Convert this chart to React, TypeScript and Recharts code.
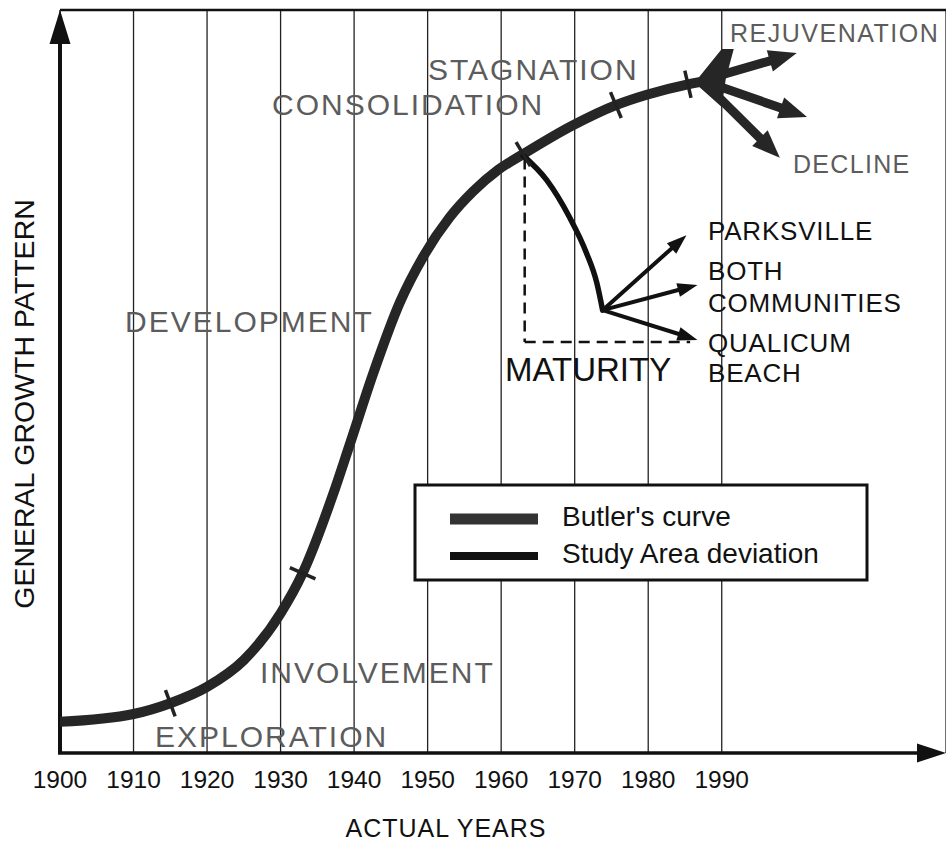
import React from 'react'
import {
  ComposedChart,
  Line,
  XAxis,
  YAxis,
  CartesianGrid,
  ReferenceLine,
} from 'recharts'

// Butler's curve (years, growth index 0..100)
const butlerYears = [1900, 1910, 1915, 1920, 1925, 1930, 1933, 1937.1, 1939.3, 1942.6, 1946.2, 1949.4, 1953, 1956.2, 1959.6, 1963, 1969.6, 1975.6, 1979.8, 1985.4, 1988.7]
const butlerValues = [4.2, 5.25, 6.7, 8.9, 12.5, 18.8, 24.2, 34.7, 41.2, 51.1, 60.6, 66.8, 72.1, 75.6, 78.5, 80.6, 84.4, 87.2, 88.6, 90.0, 90.6]
// stage boundaries marked with a little cross tick on the curve
const stageYears = [1915, 1933, 1963, 1975.6, 1985.4]

// study area deviation
const studyYears = [1963, 1966.2, 1969.3, 1971.6, 1973, 1973.8]
const studyValues = [80.4, 77.1, 72.1, 67.3, 63.3, 59.6]

const yearTicks = [1900, 1910, 1920, 1930, 1940, 1950, 1960, 1970, 1980, 1990]

// arrows: [fromYear, fromValue, toYear, toValue]
const fanArrows = [
  [1987.6, 90.6, 2000.2, 94.2],
  [1987.6, 90.4, 2001.6, 85.6],
  [1987.6, 90.2, 1997.9, 80.1],
]
const fanBase = [1986.3, 90.2, 1990, 90.7]
const studyArrows = [
  [1973.8, 59.6, 1985.2, 69.7],
  [1973.8, 59.6, 1986.7, 63.0],
  [1973.8, 59.6, 1986.7, 55.6],
]
const maturityDash = [
  [1963.2, 80.0, 1963.2, 55.3],
  [1963.2, 55.3, 1985.7, 55.3],
]

const phaseLabels = [
  { text: 'EXPLORATION', x: 155, y: 747 },
  { text: 'INVOLVEMENT', x: 260, y: 683 },
  { text: 'DEVELOPMENT', x: 125, y: 332 },
  { text: 'CONSOLIDATION', x: 272, y: 115 },
  { text: 'STAGNATION', x: 428, y: 80 },
]

const FONT = '"Liberation Sans", Arial, Helvetica, sans-serif'

const butlerData = butlerYears.map((year, i) => ({ year, value: butlerValues[i] }))
const studyData = studyYears.map((year, i) => ({ year, value: studyValues[i] }))

function arrowShape(width: number, headLen: number, headHalf: number, color: string) {
  return (p: any) => {
    const { x1, y1, x2, y2 } = p
    const dx = x2 - x1
    const dy = y2 - y1
    const len = Math.hypot(dx, dy) || 1
    const ux = dx / len
    const uy = dy / len
    const bx = x2 - ux * headLen
    const by = y2 - uy * headLen
    const nx = -uy
    const ny = ux
    return (
      <g>
        <line x1={x1} y1={y1} x2={bx + ux * 2} y2={by + uy * 2} stroke={color} strokeWidth={width} strokeLinecap="round" />
        <polygon
          points={`${x2},${y2} ${bx + nx * headHalf},${by + ny * headHalf} ${bx - nx * headHalf},${by - ny * headHalf}`}
          fill={color}
        />
      </g>
    )
  }
}

function wedgeShape(p: any) {
  const { x1, y1, x2, y2 } = p
  return <polygon points={`${x1},${y1} ${x2},${y2 - 30} ${x2 + 12},${y2 - 30} ${x2 + 4},${y2} ${x2},${y2 + 28}`} fill="#262626" />
}

function yAxisArrow(p: any) {
  const top = Math.min(p.y1, p.y2)
  const bottom = Math.max(p.y1, p.y2)
  const x = p.x1
  return (
    <g>
      <line x1={x} y1={bottom} x2={x} y2={top + 30} stroke="#111" strokeWidth={4} />
      <polygon points={`${x},${top} ${x - 10.5},${top + 34} ${x + 10.5},${top + 34}`} fill="#111" />
    </g>
  )
}

function xAxisArrow(p: any) {
  const left = Math.min(p.x1, p.x2)
  const right = Math.max(p.x1, p.x2)
  const y = p.y1
  return (
    <g>
      <line x1={left - 2} y1={y} x2={right - 25} y2={y} stroke="#111" strokeWidth={3.5} />
      <polygon points={`${right},${y} ${right - 29},${y - 9.5} ${right - 29},${y + 9.5}`} fill="#111" />
    </g>
  )
}

function StageTick(props: any) {
  const { cx, cy, payload, points, index } = props
  if (!stageYears.includes(payload?.year)) return <g key={`d${index}`} />
  let nx = -0.6
  let ny = -0.8
  if (points && points.length) {
    const a = points[Math.max(0, index - 1)]
    const b = points[Math.min(points.length - 1, index + 1)]
    const dx = b.x - a.x
    const dy = b.y - a.y
    const l = Math.hypot(dx, dy) || 1
    nx = -dy / l
    ny = dx / l
  }
  return (
    <line
      key={`d${index}`}
      x1={cx - nx * 14}
      y1={cy - ny * 14}
      x2={cx + nx * 14}
      y2={cy + ny * 14}
      stroke="#222"
      strokeWidth={3.5}
    />
  )
}

function YearTick({ x, y, payload }: any) {
  return (
    <text x={x} y={y + 35} textAnchor="middle" fontSize={24.5} fontFamily={FONT} fill="#111">
      {payload.value}
    </text>
  )
}

export default function App() {
  return (
    <div style={{ position: 'absolute', left: 0, top: 0, width: 946, height: 843, background: '#fff' }}>
      <ComposedChart width={946} height={843} margin={{ top: 10, right: 0, bottom: 0, left: 60 }}>
        <CartesianGrid horizontal={false} stroke="#222" strokeWidth={1.3} />
        <XAxis
          type="number"
          dataKey="year"
          domain={[1900, 2020.5]}
          ticks={yearTicks}
          height={90}
          axisLine={false}
          tickLine={false}
          tickSize={0}
          tickMargin={0}
          tick={<YearTick />}
          allowDataOverflow
        />
        <YAxis type="number" domain={[0, 100]} hide width={0} allowDataOverflow />
        <ReferenceLine y={100} stroke="#111" strokeWidth={2.5} />
        <ReferenceLine x={1900} shape={yAxisArrow} />
        <ReferenceLine y={0} shape={xAxisArrow} />

        {maturityDash.map((d, i) => (
          <ReferenceLine
            key={`m${i}`}
            segment={[{ x: d[0], y: d[1] }, { x: d[2], y: d[3] }]}
            stroke="#111"
            strokeWidth={2.5}
            strokeDasharray="11 7"
          />
        ))}

        <Line
          data={butlerData}
          dataKey="value"
          type="monotone"
          stroke="#262626"
          strokeWidth={10}
          strokeLinecap="round"
          dot={StageTick}
          activeDot={false}
          isAnimationActive={false}
        />
        <Line
          data={studyData}
          dataKey="value"
          type="monotone"
          stroke="#111"
          strokeWidth={5.5}
          strokeLinecap="round"
          dot={false}
          activeDot={false}
          isAnimationActive={false}
        />

        <ReferenceLine
          segment={[{ x: fanBase[0], y: fanBase[1] }, { x: fanBase[2], y: fanBase[3] }]}
          shape={wedgeShape}
        />
        {fanArrows.map((a, i) => (
          <ReferenceLine
            key={`f${i}`}
            segment={[{ x: a[0], y: a[1] }, { x: a[2], y: a[3] }]}
            shape={arrowShape(9, 28, 11, '#262626')}
          />
        ))}
        {studyArrows.map((a, i) => (
          <ReferenceLine
            key={`s${i}`}
            segment={[{ x: a[0], y: a[1] }, { x: a[2], y: a[3] }]}
            shape={arrowShape(4, 20, 7, '#111')}
          />
        ))}
      </ComposedChart>

      <svg
        width={946}
        height={843}
        style={{ position: 'absolute', left: 0, top: 0, pointerEvents: 'none' }}
        fontFamily={FONT}
      >
        {phaseLabels.map((l) => (
          <text key={l.text} x={l.x} y={l.y} fontSize={30} letterSpacing={2} fill="#5c5c5c">
            {l.text}
          </text>
        ))}
        <text x={730} y={42} fontSize={25} letterSpacing={1.5} fill="#5c5c5c">REJUVENATION</text>
        <text x={793} y={173} fontSize={25} letterSpacing={1.3} fill="#5c5c5c">DECLINE</text>

        <text x={505} y={381} fontSize={33} fill="#111">MATURITY</text>
        <g fontSize={26} fill="#111" letterSpacing={0.8}>
          <text x={708} y={240}>PARKSVILLE</text>
          <text x={708} y={280}>BOTH</text>
          <text x={708} y={312}>COMMUNITIES</text>
          <text x={708} y={352}>QUALICUM</text>
          <text x={708} y={382}>BEACH</text>
        </g>

        <rect x={415} y={485} width={452} height={95} fill="#fff" stroke="#111" strokeWidth={3} />
        <line x1={450} y1={519} x2={538} y2={519} stroke="#333" strokeWidth={11} />
        <line x1={450} y1={556} x2={538} y2={556} stroke="#111" strokeWidth={8} />
        <text x={562} y={526} fontSize={28} fill="#111">Butler's curve</text>
        <text x={562} y={563} fontSize={28} fill="#111">Study Area deviation</text>

        <text x={446} y={837} fontSize={25} letterSpacing={1} textAnchor="middle" fill="#111">ACTUAL YEARS</text>
        <text
          x={0}
          y={0}
          transform="translate(34 404) rotate(-90)"
          fontSize={28.5}
          textAnchor="middle"
          fill="#111"
        >
          GENERAL GROWTH PATTERN
        </text>
      </svg>
    </div>
  )
}
